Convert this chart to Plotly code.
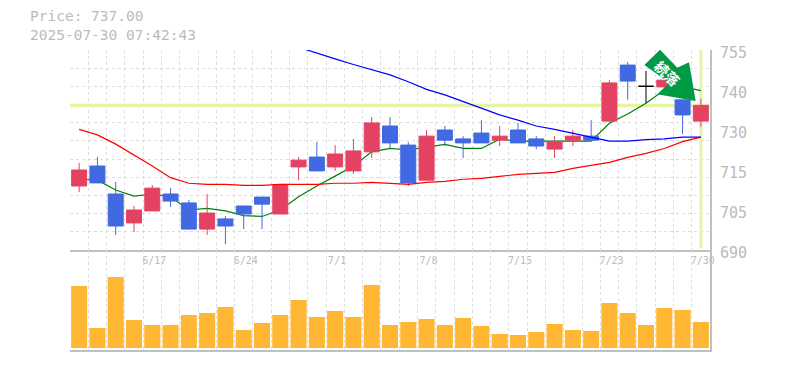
import plotly.graph_objects as go

dates = ["6/11","6/12","6/13","6/16","6/17","6/18","6/19","6/20","6/23","6/24","6/25","6/26","6/27","6/30",
         "7/1","7/2","7/3","7/4","7/7","7/8","7/9","7/10","7/11","7/14","7/15","7/16","7/17","7/18","7/22","7/23",
         "7/24","7/25","7/28","7/29","7/30"]
tick_labels = ["6/17","6/24","7/1","7/8","7/15","7/23","7/30"]
price_tick_vals = [755,742,729,716,703,690]
price_tick_text = ["755","740","730","715","705","690"]

open_p = [710.8,717.3,708.2,698.8,702.7,708.2,705.3,696.8,700.1,704.3,707.2,701.7,717.0,
          720.2,717.0,715.7,721.9,730.3,724.1,712.7,729.0,726.1,728.0,725.7,729.0,
          726.1,722.8,725.7,727.0,731.9,750.1,743.2,743.0,738.8,731.9]
close_p = [716.0,711.8,697.8,703.0,710.1,705.9,696.8,702.0,697.8,701.7,704.9,711.3,719.2,
           715.7,721.2,722.2,731.3,724.8,711.8,727.0,725.7,724.8,724.8,727.0,724.8,
           723.8,725.1,727.0,725.7,744.3,744.9,743.2,745.2,733.9,737.0]
high_p = [718.3,720.2,712.1,704.3,711.1,710.1,706.2,708.2,701.0,704.3,707.2,711.3,720.2,
          725.1,724.1,726.1,733.2,733.2,725.1,729.0,730.3,727.0,732.2,730.3,731.3,
          727.0,727.0,729.0,732.2,745.2,751.1,748.2,745.2,738.8,739.1]
low_p = [708.8,711.8,694.9,695.8,702.7,704.0,696.8,694.9,691.9,696.8,696.8,701.7,712.7,
         715.7,715.7,714.7,719.9,722.8,710.8,712.7,723.8,719.9,724.8,723.8,724.8,
         722.8,719.9,723.8,725.7,731.0,738.8,737.8,743.0,727.7,730.0]

ma_short = [713.0,712.7,709.5,707.5,708.2,707.3,703.0,703.5,702.7,701.2,700.9,703.0,707.3,
            710.8,714.0,717.3,721.9,723.0,722.5,723.4,724.3,723.0,723.0,726.0,725.4,
            725.4,725.4,725.4,725.4,731.2,734.2,737.7,742.0,743.1,741.8]
ma_long = [729.2,727.4,724.4,720.9,717.3,713.5,711.7,711.3,711.3,711.0,711.0,711.3,711.3,
           711.3,711.7,711.7,712.0,711.7,711.3,712.0,712.3,713.0,713.3,713.9,714.6,
           714.9,715.2,716.5,717.5,718.5,720.1,721.4,723.0,725.2,726.7]
ma_mid_start = 12
ma_mid = [755.9,753.9,752.1,750.3,748.5,746.9,744.7,742.2,740.4,738.2,736.0,733.9,732.2,
          730.3,729.2,728.0,726.7,725.4,725.4,725.9,726.1,726.7,726.7]
volume = [62,20,71,28,23,23,33,35,41,18,25,33,48,31,37,31,63,23,26,29,23,30,22,14,13,16,24,18,17,45,35,23,40,38,26]
last_price = 737.0

n = len(dates)
xs = list(range(n))
RED, BLUE = "#E34263", "#4169E1"
GRID, AXIS, TXT = "#DDDDDD", "#C0C0C0", "#BBBBBB"
LAST = "#E4F5A6"
FONT = "DejaVu Sans Mono"

doji = [i for i in xs if open_p[i] == close_p[i]]
rest = [i for i in xs if i not in doji]
pick = lambda seq, ids: [seq[i] for i in ids]

fig = go.Figure()
# main subplot (below): guide lines and the short average
fig.add_trace(go.Scatter(x=[-0.5, n-0.5], y=[last_price]*2, mode="lines", line=dict(color=LAST, width=3.5), hoverinfo="skip"))
fig.add_trace(go.Scatter(x=[n-1, n-1], y=[690.5, 755], mode="lines", line=dict(color=LAST, width=3), hoverinfo="skip"))
fig.add_trace(go.Scatter(x=xs, y=ma_short, mode="lines", line=dict(color="#008000", width=1.2)))
# overlaying subplot (above): candles, then the long averages
fig.add_trace(go.Candlestick(x=rest, open=pick(open_p, rest), high=pick(high_p, rest), low=pick(low_p, rest),
                             close=pick(close_p, rest), yaxis="y3",
                             increasing=dict(line=dict(color=RED, width=1), fillcolor=RED),
                             decreasing=dict(line=dict(color=BLUE, width=1), fillcolor=BLUE)))
fig.add_trace(go.Candlestick(x=doji, open=pick(open_p, doji), high=pick(high_p, doji), low=pick(low_p, doji),
                             close=pick(close_p, doji), yaxis="y3",
                             increasing=dict(line=dict(color="#000000", width=1), fillcolor="#000000"),
                             decreasing=dict(line=dict(color="#000000", width=1), fillcolor="#000000")))
fig.add_trace(go.Scatter(x=xs, y=ma_long, mode="lines", yaxis="y3", line=dict(color="#FF0000", width=1.2)))
fig.add_trace(go.Scatter(x=xs[ma_mid_start:], y=ma_mid, mode="lines", yaxis="y3", cliponaxis=False, line=dict(color="#0000FF", width=1.2)))
fig.add_trace(go.Bar(x=xs, y=volume, marker=dict(color="#FFB733", line=dict(width=0)), width=0.88,
                     xaxis="x2", yaxis="y2"))

vgrid = [i - 0.5 for i in range(n + 1)]
hgrid = [690 + 65 * k / 11 for k in range(12)]
W, H = 785, 370
L, R, T, B, M = 70, 710, 50, 350, 250
xcommon = dict(range=[-0.5, n-0.5], showline=True, linecolor=AXIS, linewidth=2, zeroline=False, showgrid=False,
               ticks="", domain=[L/W, R/W], automargin=False,
               minor=dict(tickmode="array", tickvals=vgrid, showgrid=True, gridcolor=GRID, griddash="3px,3px", gridwidth=1, ticks=""))
arrow = [(644.3,65),(660,49.7),(677.3,67.7),(689,62.3),(695.7,101),(657.3,94.3),(669.3,82.7)]
arrow_path = "M" + " L".join(f"{x/W:.4f},{1-y/H:.4f}" for x, y in arrow) + " Z"
fig.update_layout(
    width=W, height=H, autosize=False, showlegend=False, paper_bgcolor="white", plot_bgcolor="white",
    margin=dict(l=0, r=0, t=0, b=0, pad=0, autoexpand=False), barmode="overlay", boxmode="overlay", boxgap=0.18, boxgroupgap=0,
    font=dict(family=FONT, color=TXT),
    xaxis=dict(**xcommon, anchor="y", rangeslider=dict(visible=False), tickmode="array",
               tickvals=[dates.index(t) for t in tick_labels], ticktext=tick_labels, ticklabelshift=2,
               tickfont=dict(size=10, color=TXT, family=FONT), ticklen=9, tickcolor="rgba(0,0,0,0)"),
    yaxis=dict(domain=[1-M/H, 1-T/H], range=[690, 755], side="right", anchor="x", showline=True, linecolor=AXIS, linewidth=2,
               showgrid=False, zeroline=False, tickmode="array", tickvals=price_tick_vals, ticktext=price_tick_text, ticklabelshift=3,
               tickfont=dict(size=15, color=TXT, family=FONT), ticks="outside", ticklen=5, tickcolor="rgba(0,0,0,0)",
               minor=dict(tickmode="array", tickvals=hgrid, showgrid=True, gridcolor=GRID, griddash="3px,3px", gridwidth=1, ticks="")),
    yaxis3=dict(domain=[1-M/H, 1-T/H], range=[690, 755], overlaying="y", side="right", anchor="x", visible=False,
                showgrid=False, zeroline=False),
    xaxis2=dict(**xcommon, anchor="y2", showticklabels=False, rangeslider=dict(visible=False)),
    yaxis2=dict(domain=[1-B/H, 1-M/H], range=[-2, 98], side="right", anchor="x2", showline=True, linecolor=AXIS, linewidth=2,
                showgrid=False, zeroline=False, showticklabels=False, ticks=""),
    shapes=[dict(type="path", xref="paper", yref="paper", path=arrow_path, fillcolor="#009944", line=dict(width=0), layer="above")],
    annotations=[
        dict(xref="paper", yref="paper", x=28/W, y=1-16.5/H, xanchor="left", yanchor="middle", showarrow=False, align="left",
             text="Price: 737.00", font=dict(size=14.5, color=TXT, family=FONT)),
        dict(xref="paper", yref="paper", x=28/W, y=1-34.5/H, xanchor="left", yanchor="middle", showarrow=False, align="left",
             text="2025-07-30 07:42:43", font=dict(size=14.5, color=TXT, family=FONT)),
        dict(xref="paper", yref="paper", x=667.5/W, y=1-72.5/H, xanchor="center", yanchor="middle", showarrow=False, textangle=45,
             text="続落", font=dict(size=14, color="white", family="Noto Sans CJK JP", weight=700)),
    ],
)
fig.write_html("out.html", config=dict(displayModeBar=False),
               post_script="document.body.style.margin='0';document.documentElement.style.margin='0';document.body.style.overflow='hidden';")
